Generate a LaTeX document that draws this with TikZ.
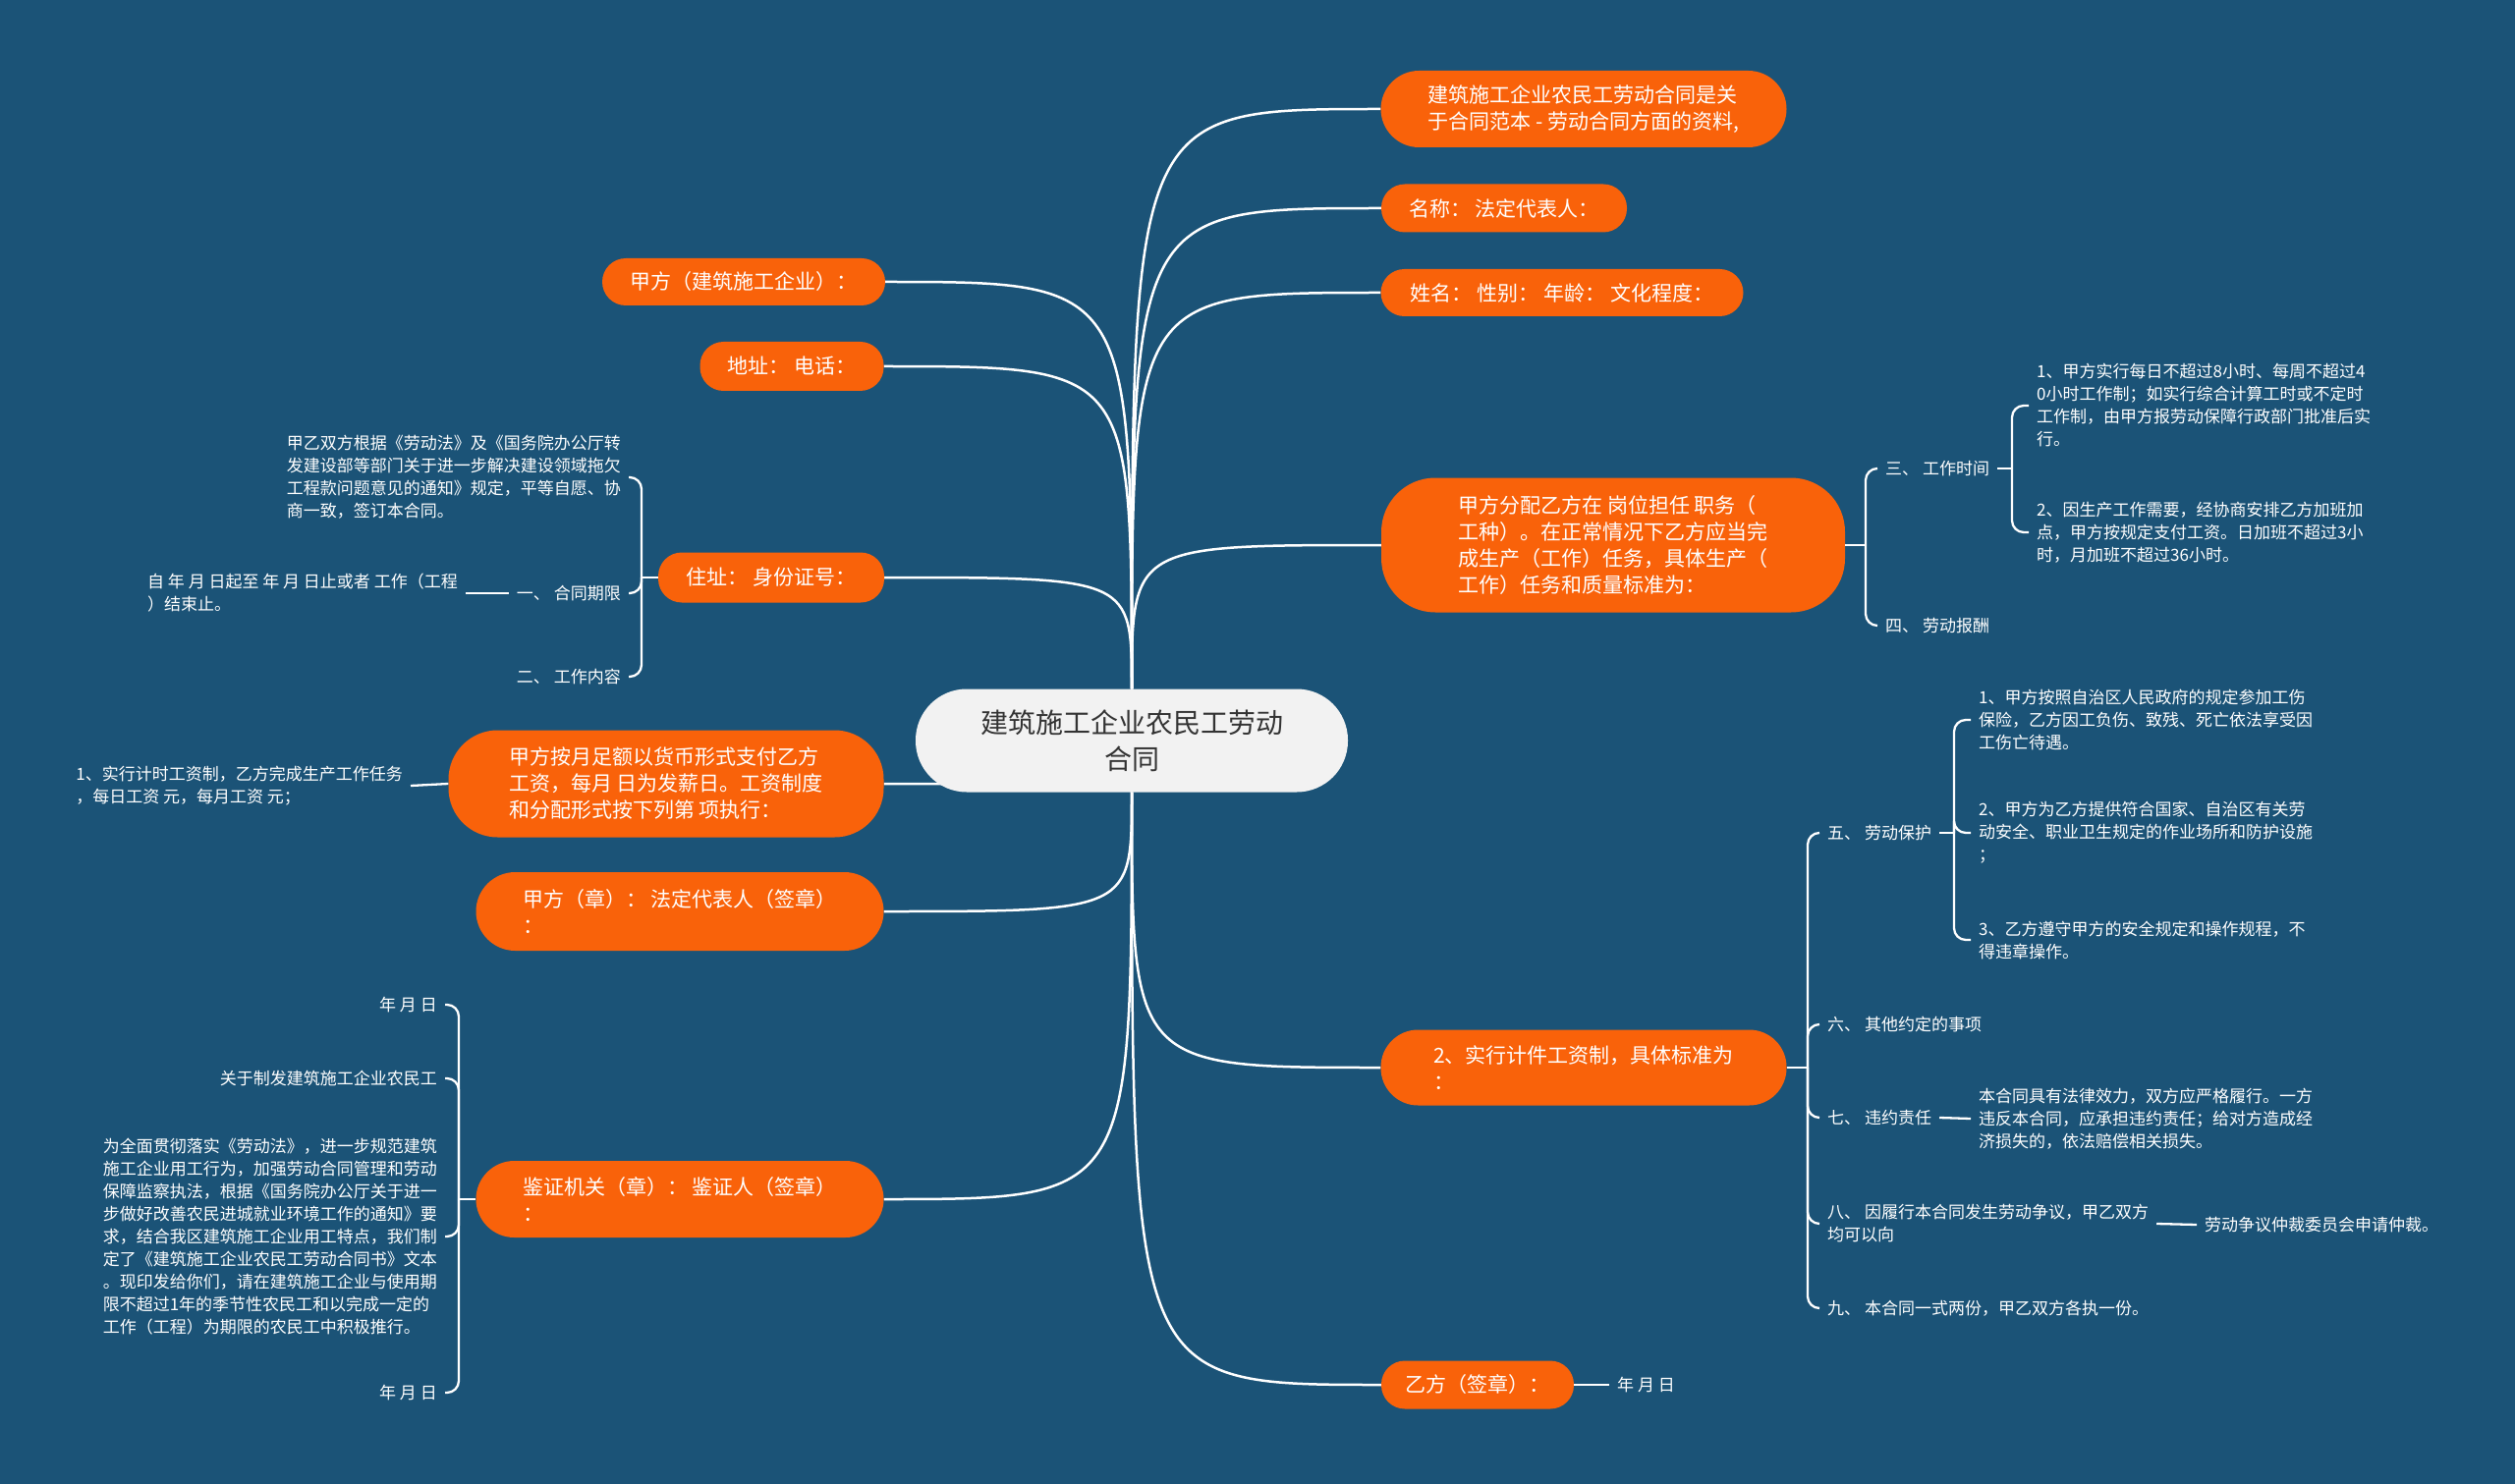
\documentclass[tikz,border=0pt]{standalone}
\usepackage{fontspec}
\newfontfamily\cjk{Noto Sans CJK SC}
\usetikzlibrary{backgrounds}
\definecolor{mapblue}{RGB}{27,83,119}
\definecolor{maporange}{RGB}{249,98,10}
\definecolor{rootgray}{RGB}{242,242,242}
\definecolor{rootink}{RGB}{51,51,51}

\begin{document}
\begin{tikzpicture}[x=1pt, y=-1pt,
  topic/.style={fill=maporange, text=white, font=\cjk\fontsize{21}{27}\selectfont,
    align=left, inner sep=0pt, rounded corners=24pt},
  leaf/.style={text=white, font=\cjk\fontsize{17}{23}\selectfont,
    align=left, inner xsep=8pt, inner ysep=2pt},
  branch/.style={white, line width=2.5pt},
  twig/.style={white, line width=2.3pt, rounded corners=12pt}]
\useasboundingbox (0,0) rectangle (2560,1511);

% Root
\node[fill=rootgray, text=rootink, font=\cjk\fontsize{28}{37}\selectfont, align=center,
  minimum width=440pt, minimum height=105pt, rounded corners=52pt, inner sep=0pt]
  (root) at (1152,754) {建筑施工企业农民工劳动\\合同};

% Right topics
\node[topic, minimum width=413pt, minimum height=78pt, rounded corners=39pt] (r1) at (1612,111)
  {建筑施工企业农民工劳动合同是关\\于合同范本 - 劳动合同方面的资料,};
\node[topic, minimum width=250pt, minimum height=49pt] (r2) at (1531,212) {名称： 法定代表人：};
\node[topic, minimum width=369pt, minimum height=48pt] (r3) at (1590,298) {姓名： 性别： 年龄： 文化程度：};
\node[topic, minimum width=472pt, minimum height=137pt, rounded corners=55pt] (r4) at (1642,555)
  {甲方分配乙方在 岗位担任 职务（\\工种）。在正常情况下乙方应当完\\成生产（工作）任务，具体生产（\\工作）任务和质量标准为：};
\node[topic, minimum width=413pt, minimum height=77pt, rounded corners=38pt] (r5) at (1612,1087)
  {2、实行计件工资制，具体标准为\\：};
\node[topic, minimum width=196pt, minimum height=49pt] (r6) at (1504,1410) {乙方（签章）：};

% Left topics
\node[topic, minimum width=288pt, minimum height=48pt] (l1) at (757,287) {甲方（建筑施工企业）：};
\node[topic, minimum width=187pt, minimum height=50pt] (l2) at (806,373) {地址： 电话：};
\node[topic, minimum width=230pt, minimum height=51pt] (l3) at (785,588) {住址： 身份证号：};
\node[topic, minimum width=443pt, minimum height=109pt, rounded corners=50pt] (l4) at (678,798)
  {甲方按月足额以货币形式支付乙方\\工资，每月 日为发薪日。工资制度\\和分配形式按下列第 项执行：};
\node[topic, minimum width=415pt, minimum height=80pt, rounded corners=40pt] (l5) at (692,928)
  {甲方（章）： 法定代表人（签章）\\：};
\node[topic, minimum width=415pt, minimum height=78pt, rounded corners=39pt] (l6) at (692,1221)
  {鉴证机关（章）： 鉴证人（签章）\\：};

% Right leaves
\node[leaf, anchor=west] (r4a) at (1911,477) {三、 工作时间};
\node[leaf, anchor=west] (r4b) at (1911,637) {四、 劳动报酬};
\node[leaf, anchor=west] (r4a1) at (2065,413)
  {1、甲方实行每日不超过8小时、每周不超过4\\0小时工作制；如实行综合计算工时或不定时\\工作制，由甲方报劳动保障行政部门批准后实\\行。};
\node[leaf, anchor=west] (r4a2) at (2065,542)
  {2、因生产工作需要，经协商安排乙方加班加\\点，甲方按规定支付工资。日加班不超过3小\\时，月加班不超过36小时。};
\node[leaf, anchor=west] (r5a) at (1852,848) {五、 劳动保护};
\node[leaf, anchor=west] (r5b) at (1852,1043) {六、 其他约定的事项};
\node[leaf, anchor=west] (r5c) at (1852,1138) {七、 违约责任};
\node[leaf, anchor=west] (r5d) at (1852,1246) {八、 因履行本合同发生劳动争议，甲乙双方\\均可以向};
\node[leaf, anchor=west] (r5e) at (1852,1332) {九、 本合同一式两份，甲乙双方各执一份。};
\node[leaf, anchor=west] (r5a1) at (2006,733)
  {1、甲方按照自治区人民政府的规定参加工伤\\保险，乙方因工负伤、致残、死亡依法享受因\\工伤亡待遇。};
\node[leaf, anchor=west] (r5a2) at (2006,848)
  {2、甲方为乙方提供符合国家、自治区有关劳\\动安全、职业卫生规定的作业场所和防护设施\\；};
\node[leaf, anchor=west] (r5a3) at (2006,957)
  {3、乙方遵守甲方的安全规定和操作规程，不\\得违章操作。};
\node[leaf, anchor=west] (r5c1) at (2006,1139)
  {本合同具有法律效力，双方应严格履行。一方\\违反本合同，应承担违约责任；给对方造成经\\济损失的，依法赔偿相关损失。};
\node[leaf, anchor=west] (r5d1) at (2236,1247) {劳动争议仲裁委员会申请仲裁。};
\node[leaf, anchor=west] (r6a) at (1638,1410) {年 月 日};

% Left leaves
\node[leaf, anchor=east] (l3a) at (640,486)
  {甲乙双方根据《劳动法》及《国务院办公厅转\\发建设部等部门关于进一步解决建设领域拖欠\\工程款问题意见的通知》规定，平等自愿、协\\商一致，签订本合同。};
\node[leaf, anchor=east] (l3b) at (640,604) {一、 合同期限};
\node[leaf, anchor=east] (l3c) at (640,689) {二、 工作内容};
\node[leaf, anchor=east] (l3b1) at (474,604)
  {自 年 月 日起至 年 月 日止或者 工作（工程\\）结束止。};
\node[leaf, anchor=east] (l4a) at (418,800)
  {1、实行计时工资制，乙方完成生产工作任务\\，每日工资 元，每月工资 元；};
\node[leaf, anchor=east] (l6a) at (453,1023) {年 月 日};
\node[leaf, anchor=east] (l6b) at (453,1098) {关于制发建筑施工企业农民工};
\node[leaf, anchor=east] (l6c) at (453,1259)
  {为全面贯彻落实《劳动法》，进一步规范建筑\\施工企业用工行为，加强劳动合同管理和劳动\\保障监察执法，根据《国务院办公厅关于进一\\步做好改善农民进城就业环境工作的通知》要\\求，结合我区建筑施工企业用工特点，我们制\\定了《建筑施工企业农民工劳动合同书》文本\\。现印发给你们，请在建筑施工企业与使用期\\限不超过1年的季节性农民工和以完成一定的\\工作（工程）为期限的农民工中积极推行。};
\node[leaf, anchor=east] (l6d) at (453,1418) {年 月 日};

% Bracket joints
\coordinate (l3k) at (653,588);
\coordinate (l6k) at (467,1221);
\coordinate (r4k) at (1899,555);
\coordinate (r4ak) at (2048,477);
\coordinate (r5k) at (1840,1087);
\coordinate (r5ak) at (1989,848);

% Main branches behind the root
\begin{pgfonlayer}{background}
  \fill[mapblue] (0,0) rectangle (2560,1511);
  \foreach \t in {r1,r2,r3,r4}
    \draw[branch] (root.north) .. controls (root.north |- \t.west) .. (\t.west);
  \foreach \t in {l1,l2,l3}
    \draw[branch] (root.north) .. controls (root.north |- \t.east) .. (\t.east);
  \foreach \t in {r5,r6}
    \draw[branch] (root.south) .. controls (root.south |- \t.west) .. (\t.west);
  \foreach \t in {l4,l5,l6}
    \draw[branch] (root.south) .. controls (root.south |- \t.east) .. (\t.east);
\end{pgfonlayer}

% Sub-branches
\draw[twig] (l3.west) -- (l3k);
\foreach \c in {l3a,l3b,l3c}
  \draw[twig] (l3k) |- (\c.east);
\draw[twig] (l3b.west) -- (l3b1.east);
\draw[twig] (l4.west) -- (l4a.east);
\draw[twig] (l6.west) -- (l6k);
\foreach \c in {l6a,l6b,l6c,l6d}
  \draw[twig] (l6k) |- (\c.east);
\draw[twig] (r4.east) -- (r4k);
\foreach \c in {r4a,r4b}
  \draw[twig] (r4k) |- (\c.west);
\draw[twig] (r4a.east) -- (r4ak);
\foreach \c in {r4a1,r4a2}
  \draw[twig] (r4ak) |- (\c.west);
\draw[twig] (r5.east) -- (r5k);
\foreach \c in {r5a,r5b,r5c,r5d,r5e}
  \draw[twig] (r5k) |- (\c.west);
\draw[twig] (r5a.east) -- (r5ak);
\foreach \c in {r5a1,r5a2,r5a3}
  \draw[twig] (r5ak) |- (\c.west);
\draw[twig] (r5c.east) -- (r5c1.west);
\draw[twig] (r5d.east) -- (r5d1.west);
\draw[twig] (r6.east) -- (r6a.west);
\end{tikzpicture}
\end{document}
